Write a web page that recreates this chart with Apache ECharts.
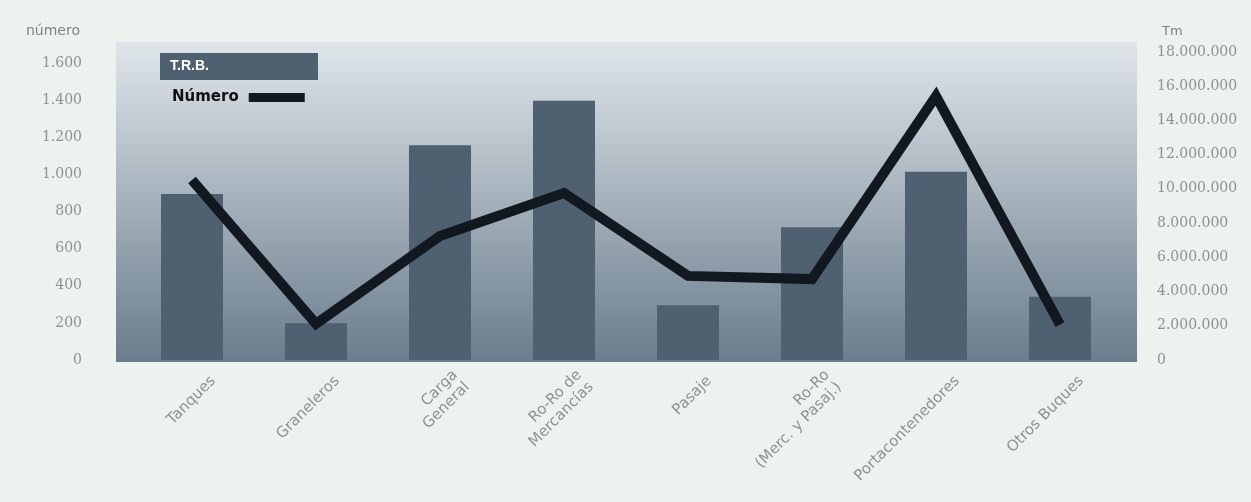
<!DOCTYPE html>
<html>
<head>
<meta charset="utf-8">
<script src="https://cdn.jsdelivr.net/npm/echarts@6/dist/echarts.min.js"></script>
<style>
html,body{margin:0;padding:0;background:#edf2ef;}
#chart{width:1251px;height:502px;}
</style>
</head>
<body>
<div id="chart"></div>
<script>
const categories = ['Tanques','Graneleros','Carga\nGeneral','Ro-Ro de\nMercancías','Pasaje','Ro-Ro\n(Merc. y Pasaj.)','Portacontenedores','Otros Buques'];
const trbValues = [9700000, 2150000, 12550000, 15150000, 3200000, 7750000, 11000000, 3700000];
const numeroValues = [970, 195, 668, 900, 453, 436, 1422, 190];
const leftTicks = [0, 200, 400, 600, 800, 1000, 1200, 1400, 1600];
const rightTicks = [0, 2000000, 4000000, 6000000, 8000000, 10000000, 12000000, 14000000, 16000000, 18000000];

function fmt(v){ return String(v).replace(/\B(?=(\d{3})+(?!\d))/g, '.'); }

const chart = echarts.init(document.getElementById('chart'), null, {renderer:'canvas'});
chart.setOption({
  backgroundColor: '#edf2ef',
  animation: false,
  graphic: [{
    type: 'rect', z: -10, silent: true,
    shape: {x: 116, y: 42, width: 1021, height: 320},
    style: {fill: new echarts.graphic.LinearGradient(0,0,0,1,[
      {offset:0, color:'#dfe6ea'},
      {offset:0.45, color:'#aab6c0'},
      {offset:1, color:'#6b7c8c'}
    ])}
  }],
  legend: [{
    data: ['T.R.B.'],
    left: 155, top: 53, padding: 0,
    itemWidth: 0, itemHeight: 0,
    selectedMode: false,
    textStyle: {color:'#ffffff', fontWeight:'bold', fontSize:14, fontFamily:'Liberation Sans Narrow, Liberation Sans',
      backgroundColor:'#4f6070', width:148, height:27, lineHeight:27, padding:[0,0,0,10]}
  },{
    data: ['Número'],
    left: 172, top: 90, padding: 0,
    align: 'right',
    icon: 'rect',
    itemWidth: 56, itemHeight: 9,
    selectedMode: false,
    textStyle: {color:'#111111', fontWeight:'bold', fontSize:15, fontFamily:'DejaVu Sans', padding:[0,5,0,0]}
  }],
  grid: {left: 130, right: 129, top: 42, bottom: 142},
  xAxis: {
    type: 'category',
    data: categories,
    axisLine: {show:false},
    axisTick: {show:false},
    axisLabel: {rotate:45, margin:40, color:'#8e918f', fontSize:15, fontFamily:'DejaVu Sans', lineHeight:17,
      padding:[0,-30,0,0]}
  },
  yAxis: [{
    type: 'value', min: 0, max: 1713, interval: 200,
    name: 'número', nameLocation: 'end', nameGap: 4,
    nameTextStyle: {color:'#7d8480', fontSize:14, fontFamily:'DejaVu Sans', align:'right', padding:[0,50,0,0]},
    splitLine: {show:false}, axisLine: {show:false}, axisTick: {show:false},
    axisLabel: {margin:48, color:'#8d9290', fontSize:14, fontFamily:'DejaVu Serif', showMaxLabel:false,
      formatter: v => leftTicks.includes(v) ? fmt(v) : ''}
  },{
    type: 'value', min: 0, max: 18580000, interval: 2000000, position: 'right',
    name: 'Tm', nameLocation: 'end', nameGap: 4,
    nameTextStyle: {color:'#7d8480', fontSize:13, fontFamily:'DejaVu Sans', align:'left', padding:[0,0,0,40]},
    splitLine: {show:false}, axisLine: {show:false}, axisTick: {show:false},
    axisLabel: {margin:35, color:'#8d9290', fontSize:14, fontFamily:'DejaVu Serif', showMaxLabel:false,
      formatter: v => rightTicks.includes(v) ? fmt(v) : ''}
  }],
  series: [{
    name: 'T.R.B.', type: 'bar', yAxisIndex: 1,
    data: trbValues, barWidth: 62,
    itemStyle: {color:'#4f6070'}
  },{
    name: 'Número', type: 'line', yAxisIndex: 0,
    data: numeroValues, showSymbol: false, symbol: 'none',
    itemStyle: {color:'#111820'},
    lineStyle: {color:'#111820', width:10, join:'miter'}
  }]
});
</script>
</body>
</html>
